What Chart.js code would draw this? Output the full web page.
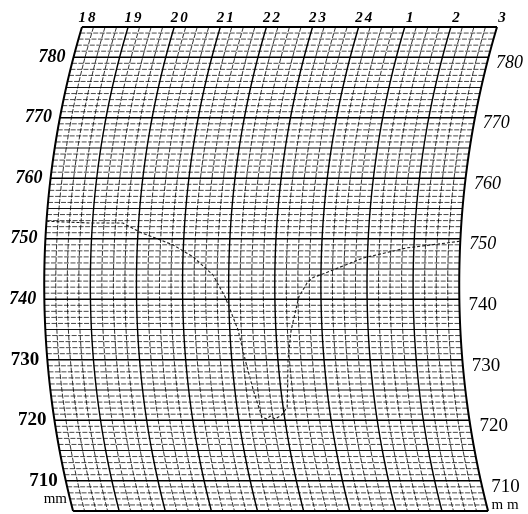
<!DOCTYPE html>
<html lang="en">
<head>
<meta charset="UTF-8">
<title>Barogram</title>
<script src="https://cdn.jsdelivr.net/npm/chart.js@4.4.0/dist/chart.umd.min.js"></script>
<style>
  body { margin: 0; background: #fff; }
  canvas { display: block; }
</style>
</head>
<body>
<canvas id="baro" width="528" height="514"></canvas>
<script>
// hour marks along the top edge (18h .. 3h next day)
const hourLabels = ['18', '19', '20', '21', '22', '23', '24', '1', '2', '3'];
const hourValues = [18, 19, 20, 21, 22, 23, 24, 25, 26, 27];
const pressureTicks = [710, 720, 730, 740, 750, 760, 770, 780];

// pen trace (time in hours, pressure in mm)
const traceTime = [18.0, 18.95, 19.66, 20.04, 20.77, 21.22, 21.66, 21.92, 22.18, 22.29, 22.40, 22.51,
  22.61, 22.69, 22.79, 22.95, 23.09, 23.22, 23.33, 23.52, 23.70, 23.83, 24.05, 24.90, 25.85, 26.71, 27.0];
const tracePressure = [752.9, 752.6, 752.6, 751.1, 749.0, 747.0, 744.0, 740.4, 734.9, 730.0, 725.0, 720.5,
  720.2, 720.7, 720.2, 720.9, 722.2, 730.0, 734.9, 740.4, 742.7, 743.6, 744.2, 746.8, 748.5, 749.3, 749.6];

// the pen arm swings on an arc, so time lines are curved
const BOW_R = 900, BOW_MID = 258;
function bend(chart, py) {
  const top = chart.chartArea.top;
  const sag = v => BOW_R - Math.sqrt(BOW_R * BOW_R - Math.pow(v - top - BOW_MID, 2));
  return sag(py) - sag(top);
}

const barographGrid = {
  id: 'barographGrid',
  afterDatasetsUpdate(chart) {
    chart.getDatasetMeta(0).data.forEach(pt => { pt.x += bend(chart, pt.y); });
  },
  beforeDatasetsDraw(chart) {
    const { ctx, scales: { x, y } } = chart;
    ctx.save();
    // pressure lines, one per mm
    for (let mm = 705; mm <= 785; mm++) {
      const py = y.getPixelForValue(mm);
      const b = bend(chart, py);
      ctx.beginPath();
      ctx.moveTo(x.getPixelForValue(18) + b, py);
      ctx.lineTo(x.getPixelForValue(27) + b, py);
      if (mm === 705 || mm === 785) { ctx.lineWidth = 2; ctx.strokeStyle = '#000'; ctx.setLineDash([]); }
      else if (mm % 10 === 0) { ctx.lineWidth = 1.6; ctx.strokeStyle = '#000'; ctx.setLineDash([]); }
      else if (mm % 5 === 0) { ctx.lineWidth = 1.1; ctx.strokeStyle = '#111'; ctx.setLineDash([]); }
      else { ctx.lineWidth = 0.9; ctx.strokeStyle = 'rgba(0,0,0,0.8)'; ctx.setLineDash([5, 1.5]); }
      ctx.stroke();
    }
    // time arcs every quarter hour
    for (let q = 0; q <= 36; q++) {
      const t = 18 + q / 4;
      const px = x.getPixelForValue(t);
      ctx.beginPath();
      for (let py = y.top; py <= y.bottom + 0.1; py += 4) {
        const yy = Math.min(py, y.bottom);
        if (py === y.top) ctx.moveTo(px + bend(chart, yy), yy);
        else ctx.lineTo(px + bend(chart, yy), yy);
      }
      ctx.lineTo(px + bend(chart, y.bottom), y.bottom);
      if (q === 0 || q === 36) { ctx.lineWidth = 2; ctx.strokeStyle = '#000'; ctx.setLineDash([]); }
      else if (q % 4 === 0) { ctx.lineWidth = 1.4; ctx.strokeStyle = '#000'; ctx.setLineDash([]); }
      else { ctx.lineWidth = 1; ctx.strokeStyle = 'rgba(0,0,0,0.8)'; ctx.setLineDash([5, 1.5]); }
      ctx.stroke();
    }
    ctx.restore();
  },
  afterDraw(chart) {
    const { ctx, scales: { x, y } } = chart;
    ctx.save();
    ctx.fillStyle = '#000';
    ctx.font = 'italic bold 15px "Liberation Serif"';
    ctx.letterSpacing = '2px';
    ctx.textAlign = 'center';
    ctx.textBaseline = 'alphabetic';
    hourValues.forEach((h, i) => {
      ctx.fillText(hourLabels[i], x.getPixelForValue(h) + 6, y.top - 5);
    });
    ctx.letterSpacing = '0px';
    ctx.textBaseline = 'middle';
    pressureTicks.forEach(p => {
      const py = y.getPixelForValue(p);
      ctx.textAlign = 'right';
      ctx.font = (p >= 740 ? 'italic bold 18px' : 'bold 19px') + ' "Liberation Serif"';
      ctx.fillText(String(p), x.getPixelForValue(18) + bend(chart, py) - 8, py);
      const pr = py + 6;
      ctx.textAlign = 'left';
      ctx.font = (p >= 750 ? 'italic 18px' : '19px') + ' "Liberation Serif"';
      ctx.fillText(String(p), x.getPixelForValue(27) + bend(chart, pr) + 9, pr);
    });
    const p710 = y.getPixelForValue(710);
    ctx.font = '15px "Liberation Serif"';
    ctx.textAlign = 'right';
    ctx.fillText('mm', x.getPixelForValue(18) + bend(chart, p710 + 18) - 3, p710 + 18);
    ctx.textAlign = 'left';
    ctx.fillText('m m', x.getPixelForValue(27) + bend(chart, p710 + 24) + 5, p710 + 24);
    ctx.restore();
  }
};

new Chart(document.getElementById('baro'), {
  type: 'line',
  data: {
    datasets: [{
      data: traceTime.map((t, i) => ({ x: t, y: tracePressure[i] })),
      borderColor: '#1a1a1a',
      borderWidth: 1.1,
      borderDash: [3, 2],
      pointRadius: 0,
      tension: 0,
      fill: false,
      clip: false
    }]
  },
  options: {
    responsive: false,
    animation: false,
    devicePixelRatio: 1,
    layout: { padding: { left: 82, right: 31, top: 27, bottom: 3 } },
    plugins: { legend: { display: false }, tooltip: { enabled: false } },
    scales: {
      x: { type: 'linear', min: 18, max: 27, display: false },
      y: { min: 705, max: 785, display: false }
    }
  },
  plugins: [barographGrid]
});
</script>
</body>
</html>
